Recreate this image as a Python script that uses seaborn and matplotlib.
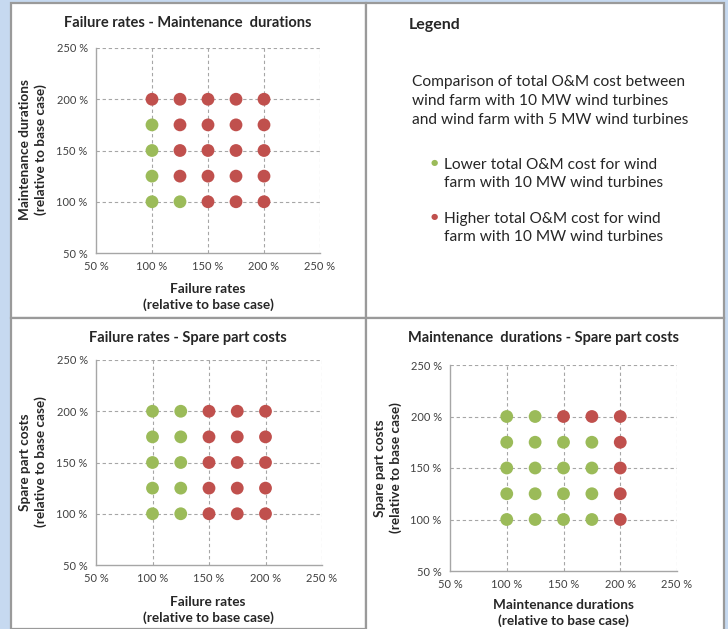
import numpy as np
import pandas as pd
import seaborn as sns
import matplotlib.pyplot as plt
from matplotlib.patches import Rectangle

# grid of scenario levels (percent of base case)
levels = [100, 125, 150, 175, 200]
tick_values = [50, 100, 150, 200, 250]
tick_labels = ['50 %', '100 %', '150 %', '200 %', '250 %']

# outcome per point: rows = y level (100..200), cols = x level (100..200)
# 'L' = lower total O&M cost for 10 MW farm, 'H' = higher
fr_md = [['L', 'L', 'H', 'H', 'H'],
         ['L', 'H', 'H', 'H', 'H'],
         ['L', 'H', 'H', 'H', 'H'],
         ['L', 'H', 'H', 'H', 'H'],
         ['H', 'H', 'H', 'H', 'H']]
fr_sp = [['L', 'L', 'H', 'H', 'H'],
         ['L', 'L', 'H', 'H', 'H'],
         ['L', 'L', 'H', 'H', 'H'],
         ['L', 'L', 'H', 'H', 'H'],
         ['L', 'L', 'H', 'H', 'H']]
md_sp = [['L', 'L', 'L', 'L', 'H'],
         ['L', 'L', 'L', 'L', 'H'],
         ['L', 'L', 'L', 'L', 'H'],
         ['L', 'L', 'L', 'L', 'H'],
         ['L', 'L', 'H', 'H', 'H']]

colors = {'L': '#9BBB59', 'H': '#C0504D'}
W, H = 728, 629
FONT = ['Lato', 'DejaVu Sans']


def fx(x):
    return x / W


def fy(y):
    return 1 - y / H


def to_frame(grid):
    rows = []
    for i, yv in enumerate(levels):
        for j, xv in enumerate(levels):
            rows.append({'x': xv, 'y': yv, 'outcome': grid[i][j]})
    return pd.DataFrame(rows)


sns.set_style('white')
plt.rcParams['font.family'] = FONT

fig = plt.figure(figsize=(W / 100, H / 100), dpi=100)
fig.patch.set_facecolor('#C6D9F0')

# white panels
for (x0, y0, x1, y1) in [(11, 3, 366, 318), (366, 3, 724, 318),
                         (11, 318, 366, 629), (366, 318, 724, 632)]:
    fig.add_artist(Rectangle((fx(x0), fy(y1)), fx(x1 - x0), (y1 - y0) / H,
                             transform=fig.transFigure, facecolor='white',
                             edgecolor='#9A9A9A', linewidth=1.6, zorder=0))


def draw_panel(grid, box, title, title_xy, xlabel, ylabel, xlab_xy, ylab_xy):
    x0, y0, x1, y1 = box
    ax = fig.add_axes([fx(x0), fy(y1), fx(x1 - x0), (y1 - y0) / H])
    ax.set_facecolor('none')
    df = to_frame(grid)
    sns.scatterplot(data=df, x='x', y='y', hue='outcome', palette=colors,
                    s=85, edgecolor='none', legend=False, ax=ax, zorder=3,
                    clip_on=False)
    ax.set_xlim(50, 250)
    ax.set_ylim(50, 250)
    ax.set_xticks(tick_values)
    ax.set_yticks(tick_values)
    ax.set_xticklabels(tick_labels)
    ax.set_yticklabels(tick_labels)
    ax.tick_params(axis='both', labelsize=8, colors='#404040', length=3,
                   width=0.8, direction='out', pad=3)
    ax.tick_params(axis='both', color='#A6A6A6')
    for v in tick_values[1:]:
        ax.axvline(v, color='#A6A6A6', lw=0.8, ls=(0, (3, 2.5)), zorder=1)
        ax.axhline(v, color='#A6A6A6', lw=0.8, ls=(0, (3, 2.5)), zorder=1)
    for s in ['top', 'right']:
        ax.spines[s].set_visible(False)
    for s in ['left', 'bottom']:
        ax.spines[s].set_color('#A6A6A6')
        ax.spines[s].set_linewidth(1.0)
    ax.set_xlabel('')
    ax.set_ylabel('')
    fig.text(fx(title_xy[0]), fy(title_xy[1]), title, ha='center', va='center',
             fontsize=10.5, fontweight='bold', color='#262626')
    fig.text(fx(xlab_xy[0]), fy(xlab_xy[1]), xlabel, ha='center', va='center',
             fontsize=9.8, fontweight='bold', color='#262626', linespacing=1.4)
    fig.text(fx(ylab_xy[0]), fy(ylab_xy[1]), ylabel, ha='center', va='center',
             fontsize=9.8, fontweight='bold', color='#262626', rotation=90,
             linespacing=1.4)
    return ax


draw_panel(fr_md, (96, 48, 320, 253), 'Failure rates - Maintenance  durations',
           (188, 23), 'Failure rates\n(relative to base case)',
           'Maintenance durations\n(relative to base case)', (208, 297), (33, 150))
draw_panel(fr_sp, (96, 360, 322, 565), 'Failure rates - Spare part costs',
           (188, 338), 'Failure rates\n(relative to base case)',
           'Spare part costs\n(relative to base case)', (208, 610), (33, 462))
draw_panel(md_sp, (450, 365, 677, 571), 'Maintenance  durations - Spare part costs',
           (544, 338), 'Maintenance durations\n(relative to base case)',
           'Spare part costs\n(relative to base case)', (563, 613), (388, 468))

# legend panel
fig.text(fx(409), fy(25), 'Legend', ha='left', va='center', fontsize=11.5,
         fontweight='bold', color='#262626')
fig.text(fx(412), fy(101), 'Comparison of total O&M cost between\n'
         'wind farm with 10 MW wind turbines\n'
         'and wind farm with 5 MW wind turbines',
         ha='left', va='center', fontsize=11.2, color='#262626', linespacing=1.45)
fig.text(fx(434), fy(163), '\u25CF', ha='center', va='center', fontsize=6,
         color=colors['L'], family='DejaVu Sans')
fig.text(fx(444), fy(174), 'Lower total O&M cost for wind\n'
         'farm with 10 MW wind turbines', ha='left', va='center',
         fontsize=11.2, color='#262626', linespacing=1.4)
fig.text(fx(434), fy(217), '\u25CF', ha='center', va='center', fontsize=6,
         color=colors['H'], family='DejaVu Sans')
fig.text(fx(444), fy(228), 'Higher total O&M cost for wind\n'
         'farm with 10 MW wind turbines', ha='left', va='center',
         fontsize=11.2, color='#262626', linespacing=1.4)

fig.savefig('out.png', dpi=100, facecolor=fig.get_facecolor())
